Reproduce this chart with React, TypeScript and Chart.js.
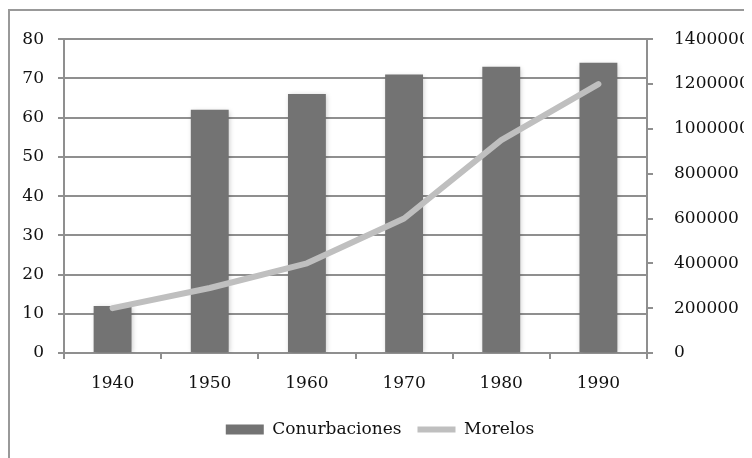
import React, { useEffect, useRef } from "react";
import { Chart, registerables } from "chart.js";

Chart.register(...registerables);

const categories = ["1940", "1950", "1960", "1970", "1980", "1990"];
const conurbaciones = [12, 62, 66, 71, 73, 74];
const morelos = [200000, 290000, 400000, 600000, 950000, 1200000];

const GRID = "#8f8f8f";
const FONT = "'DejaVu Serif', serif";

const shadowPlugin = {
  id: "barShadow",
  beforeDatasetDraw(chart: any, args: any) {
    if (args.index === 0) {
      const ctx = chart.ctx;
      ctx.save();
      ctx.shadowColor = "rgba(0,0,0,0.22)";
      ctx.shadowBlur = 5;
      ctx.shadowOffsetX = 1;
      ctx.shadowOffsetY = 1;
    }
  },
  afterDatasetDraw(chart: any, args: any) {
    if (args.index === 0) chart.ctx.restore();
  },
};

export default function App() {
  const ref = useRef<HTMLCanvasElement | null>(null);
  useEffect(() => {
    if (!ref.current) return;
    const chart = new Chart(ref.current, {
      type: "bar",
      data: {
        labels: categories,
        datasets: [
          {
            type: "bar",
            label: "Conurbaciones",
            data: conurbaciones,
            backgroundColor: "#737373",
            borderWidth: 0,
            yAxisID: "y",
            order: 2,
            categoryPercentage: 1,
            barPercentage: 0.39,
            pointStyle: "rect",
          } as any,
          {
            type: "line",
            label: "Morelos",
            data: morelos,
            borderColor: "#bfbfbf",
            backgroundColor: "#bfbfbf",
            borderWidth: 6,
            borderCapStyle: "round",
            borderJoinStyle: "round",
            pointRadius: 0,
            pointStyle: "line",
            yAxisID: "y1",
            order: 1,
          } as any,
        ],
      },
      options: {
        animation: false,
        responsive: true,
        maintainAspectRatio: false,
        layout: { padding: { top: 30, left: 0, right: 0, bottom: 10 } },
        font: { family: FONT, size: 17 },
        plugins: {
          tooltip: { enabled: false },
          legend: {
            position: "bottom",
            labels: {
              usePointStyle: true,
              pointStyleWidth: 38,
              boxHeight: 10,
              padding: 16,
              color: "#111",
              font: { family: FONT, size: 17 },
              sort: (a: any, b: any) => a.datasetIndex - b.datasetIndex,
            },
          },
        },
        scales: {
          x: {
            offset: true,
            grid: {
              offset: true,
              drawOnChartArea: false,
              drawTicks: true,
              tickLength: 6,
              color: GRID,
              lineWidth: 2,
            },
            border: { color: GRID, width: 2 },
            ticks: { color: "#111", padding: 14, font: { family: FONT, size: 17 } },
            afterFit: (s: any) => {
              s.height = 52;
            },
          },
          y: {
            position: "left",
            min: 0,
            max: 80,
            ticks: { stepSize: 10, color: "#111", padding: 14, font: { family: FONT, size: 17 } },
            grid: { color: GRID, lineWidth: 2, tickLength: 6 },
            border: { color: GRID, width: 2 },
            afterFit: (s: any) => {
              s.width = 56;
            },
          },
          y1: {
            position: "right",
            min: 0,
            max: 1400000,
            ticks: {
              stepSize: 200000,
              color: "#111",
              padding: 21,
              font: { family: FONT, size: 17 },
              callback: (v: any) => String(v),
            },
            grid: { drawOnChartArea: false, color: GRID, lineWidth: 2, tickLength: 6 },
            border: { color: GRID, width: 2 },
            afterFit: (s: any) => {
              s.width = 105;
            },
          },
        },
      } as any,
      plugins: [shadowPlugin],
    });
    return () => chart.destroy();
  }, []);

  return (
    <div style={{ position: "relative", width: 744, height: 450, overflow: "hidden" }}>
      <div
        style={{
          position: "absolute",
          top: 1,
          left: 0,
          width: 800,
          height: 500,
          border: "2px solid #999",
          boxSizing: "border-box",
        }}
      />
      <div style={{ position: "absolute", top: 0, left: 0, width: 744, height: 450 }}>
        <canvas ref={ref} />
      </div>
    </div>
  );
}
